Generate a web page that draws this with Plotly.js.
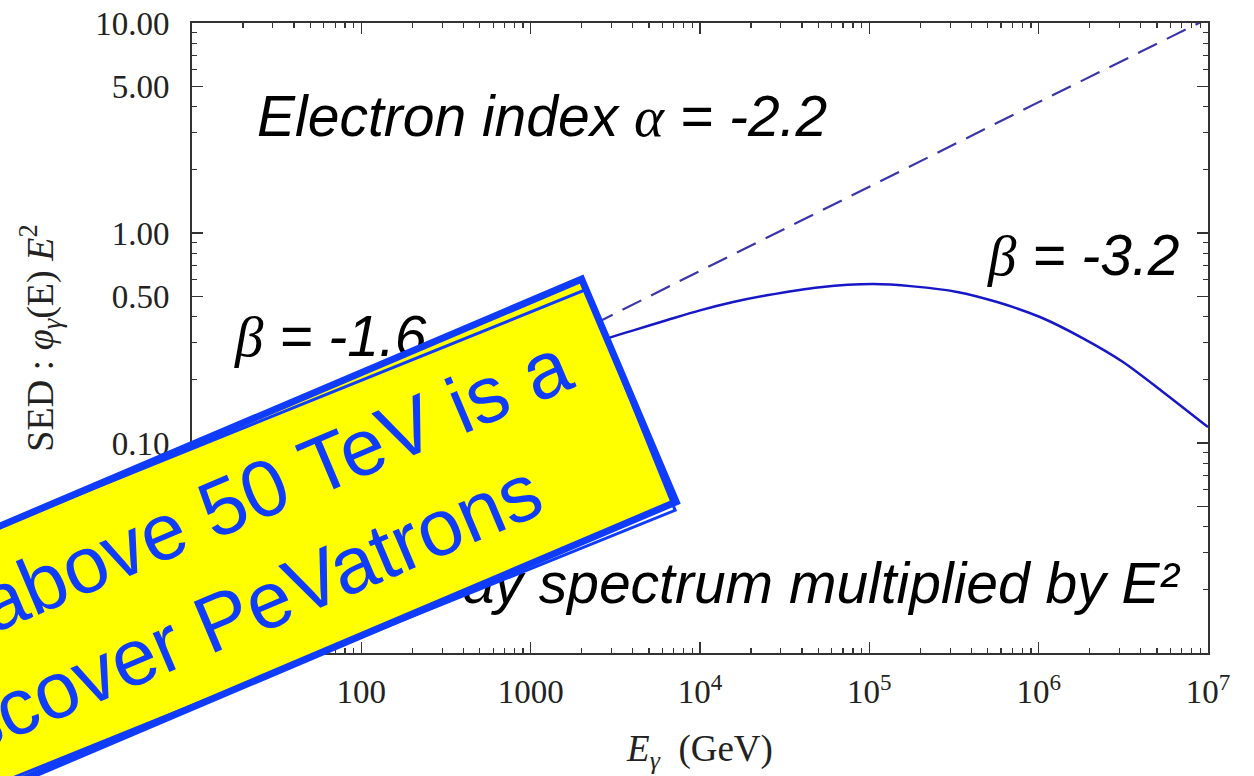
<!DOCTYPE html>
<html>
<head>
<meta charset="utf-8">
<script src="https://cdn.plot.ly/plotly-3.0.1.min.js"></script>
<style>
  html, body { margin: 0; padding: 0; background: #ffffff; }
  #chart { width: 1254px; height: 776px; }
</style>
</head>
<body>
<div id="chart"></div>
<script>
// Gamma-ray SED (E^2 * flux) versus photon energy, log-log axes.
const energyGeV = [10, 30, 100, 300, 1000, 2000, 2630, 4040, 6350, 10000, 15700, 24800,
                   51200, 105000, 181000, 330000, 568000, 1018000, 1828000,
                   3148000, 5420000, 10000000];
const sedCutoff = [0.041, 0.062, 0.097, 0.145, 0.22, 0.28, 0.308, 0.344, 0.384, 0.428, 0.469, 0.505,
                   0.552, 0.571, 0.557, 0.524, 0.469, 0.398, 0.315,
                   0.243, 0.175, 0.119];

// Pure power-law extension (beta = -1.6)
const energyPowerLaw = [10, 100, 1000, 10000, 100000, 1000000, 10000000];
const sedPowerLaw = [0.042, 0.105, 0.26, 0.66, 1.66, 4.2, 10.5];

// Axis ticks
const xTickVals = [10, 100, 1000, 1e4, 1e5, 1e6, 1e7];
const xTickText = ['10', '100', '1000', '10<sup>4</sup>', '10<sup>5</sup>', '10<sup>6</sup>', '10<sup>7</sup>'];
const yTickVals = [0.01, 0.05, 0.1, 0.5, 1, 5, 10];
const yTickText = ['0.01', '0.05', '0.10', '0.50', '1.00', '5.00', '10.00'];

const xMinor = [];
for (let d = 10; d < 1e7; d *= 10) for (let k = 2; k <= 9; k++) xMinor.push(k * d);
const yMinor = [0.02, 0.03, 0.04, 0.06, 0.07, 0.08, 0.09, 0.2, 0.3, 0.4, 0.6, 0.7, 0.8, 0.9,
                2, 3, 4, 6, 7, 8, 9];

const serif = 'Liberation Serif, Times New Roman, serif';
const sans = 'Liberation Sans, Arial, sans-serif';
const axisColor = '#333333';
const calloutBlue = '#0f3cff';

const traces = [
  {
    x: energyPowerLaw, y: sedPowerLaw, type: 'scatter', mode: 'lines',
    line: { color: '#3b36a8', width: 2.2, dash: '21px,11px' }, hoverinfo: 'skip'
  },
  {
    x: energyGeV, y: sedCutoff, type: 'scatter', mode: 'lines',
    line: { color: '#1717c6', width: 2.5, shape: 'spline', smoothing: 0.8 }, hoverinfo: 'skip'
  }
];

function axisBase() {
  return {
    type: 'log', showgrid: false, zeroline: false,
    showline: true, linecolor: axisColor, linewidth: 1.8, mirror: 'ticks',
    ticks: 'inside', ticklen: 11, tickwidth: 1.4, tickcolor: axisColor,
    tickmode: 'array',
    tickfont: { family: serif, size: 33, color: '#222222' },
    minor: { ticks: 'inside', ticklen: 5, tickwidth: 1.2, tickcolor: axisColor, tickmode: 'array' }
  };
}

const xaxis = Object.assign(axisBase(), {
  range: [1, 7], tickvals: xTickVals, ticktext: xTickText, ticklabelstandoff: 9,
  title: { text: '<i>E</i><sub><i>γ</i></sub>  (GeV)', font: { family: serif, size: 37, color: '#222222' }, standoff: 26 }
});
xaxis.minor.tickvals = xMinor;

const yaxis = Object.assign(axisBase(), {
  range: [-2, 1], tickvals: yTickVals, ticktext: yTickText, ticklabelstandoff: 14,
  title: { text: 'SED : <i>φ</i><sub><i>γ</i></sub>(E) <i>E</i><sup>2</sup>', font: { family: serif, size: 38, color: '#222222' }, standoff: 30 }
});
yaxis.minor.tickvals = yMinor;

const italicSans = { family: sans, size: 57, color: '#000000', style: 'italic' };
const greek = (ch) => '<span style="font-family:Liberation Serif">' + ch + '</span>';

const calloutText = 'Spectrum above 50 TeV is a&nbsp;<br>key to discover PeVatrons';
const calloutX = -0.0545, calloutY = 0.0845;

const annotations = [
  { text: 'Electron index ' + greek('α') + ' = -2.2', xref: 'paper', yref: 'paper',
    x: 0.062, y: 0.799, xanchor: 'left', yanchor: 'bottom', showarrow: false, font: italicSans },
  { text: greek('β') + ' = -3.2', xref: 'paper', yref: 'paper',
    x: 0.7805, y: 0.578, xanchor: 'left', yanchor: 'bottom', showarrow: false, font: italicSans },
  { text: greek('β') + ' = -1.6', xref: 'paper', yref: 'paper',
    x: 0.0394, y: 0.4497, xanchor: 'left', yanchor: 'bottom', showarrow: false, font: italicSans },
  { text: 'Gamma-ray spectrum multiplied by E²', xref: 'paper', yref: 'paper',
    x: 0.9754, y: 0.0572, xanchor: 'right', yanchor: 'bottom', showarrow: false, font: italicSans },
  // yellow call-out box
  { text: calloutText, xref: 'paper', yref: 'paper', x: calloutX, y: calloutY,
    xanchor: 'center', yanchor: 'middle', showarrow: false, textangle: -23, align: 'left',
    font: { family: sans, size: 80, color: calloutBlue },
    bgcolor: '#ffff00', bordercolor: calloutBlue, borderwidth: 7, borderpad: 21 },
  // second hand-drawn outline stroke
  { text: calloutText, xref: 'paper', yref: 'paper', x: calloutX, y: calloutY,
    xanchor: 'center', yanchor: 'middle', showarrow: false, textangle: -22, align: 'left',
    font: { family: sans, size: 80, color: 'rgba(0,0,0,0)' },
    bgcolor: 'rgba(0,0,0,0)', bordercolor: calloutBlue, borderwidth: 3, borderpad: 21 }
];

const layout = {
  width: 1254, height: 776,
  margin: { l: 192, r: 46, t: 23, b: 123 },
  paper_bgcolor: '#ffffff', plot_bgcolor: '#ffffff',
  showlegend: false,
  xaxis: xaxis, yaxis: yaxis,
  annotations: annotations
};

Plotly.newPlot('chart', traces, layout, { displayModeBar: false, staticPlot: true });
</script>
</body>
</html>
